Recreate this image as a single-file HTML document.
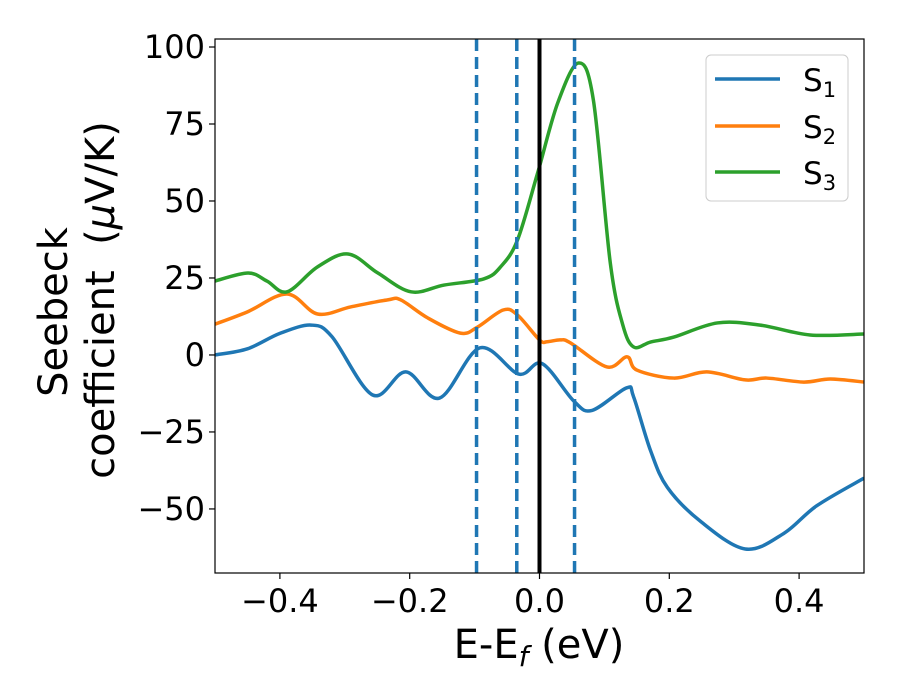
<!DOCTYPE html>
<html><head><meta charset="utf-8"><style>
html,body{margin:0;padding:0;background:#fff}
svg{font-family:"DejaVu Sans","Liberation Sans",sans-serif;display:block}
</style></head><body>
<svg id="chart" width="900" height="700">
<g id="plot"></g>
<g>
<text x="539" y="658" text-anchor="middle" font-size="40">E-E<tspan font-style="italic" font-size="28" dy="8">f</tspan><tspan dy="-8"> (eV)</tspan></text>
</g>
<g font-size="40">
<text transform="translate(67,312) rotate(-90)" text-anchor="middle">Seebeck</text>
<text transform="translate(114,300) rotate(-90)" text-anchor="middle" style="white-space:pre">coefficient  (<tspan font-style="italic">μ</tspan>V/K)</text>
</g>
<g>
<rect x="706" y="55" width="142" height="146" rx="5" fill="#fff" fill-opacity="0.8" stroke="#ccc"/>
<g><line x1="715" x2="780" y1="79" y2="79" stroke="#1f77b4" stroke-width="3.5"/><text x="803" y="91" font-size="31">S<tspan font-size="21" dy="6">1</tspan></text></g>
<g><line x1="715" x2="780" y1="126" y2="126" stroke="#ff7f0e" stroke-width="3.5"/><text x="803" y="138" font-size="31">S<tspan font-size="21" dy="6">2</tspan></text></g>
<g><line x1="715" x2="780" y1="172" y2="172" stroke="#2ca02c" stroke-width="3.5"/><text x="803" y="184" font-size="31">S<tspan font-size="21" dy="6">3</tspan></text></g>
</g>
</svg>
<script>
const xTicks=[-0.4,-0.2,0.0,0.2,0.4];
const xTickLabels=["\u22120.4","\u22120.2","0.0","0.2","0.4"];
const yTicks=[-50,-25,0,25,50,75,100];
const yTickLabels=["\u221250","\u221225","0","25","50","75","100"];
const s1x=[-0.5,-0.45,-0.4,-0.352,-0.32,-0.257,-0.206,-0.154,-0.092,-0.032,0.004,0.053,0.081,0.134,0.145,0.171,0.197,0.248,0.317,0.376,0.427,0.5];
const s1y=[0,2,7,9.7,6,-13,-5.5,-14,2.3,-6.2,-2.8,-15,-18,-10.7,-13.6,-31,-43,-54,-63,-58,-49,-40];
const s2x=[-0.5,-0.45,-0.389,-0.342,-0.291,-0.234,-0.214,-0.172,-0.122,-0.096,-0.056,-0.034,0.0,0.012,0.032,0.048,0.104,0.135,0.15,0.207,0.258,0.317,0.35,0.407,0.448,0.5];
const s2y=[10,14,19.8,13.3,15.6,17.9,17.9,12,7.1,9,14.6,13,4.9,4.3,4.9,3.9,-3.9,-0.6,-4.9,-7.5,-5.5,-8.1,-7.5,-8.8,-7.8,-8.8];
const s3x=[-0.5,-0.449,-0.42,-0.389,-0.342,-0.295,-0.249,-0.198,-0.147,-0.086,-0.06,-0.034,-0.003,0.028,0.06,0.083,0.109,0.128,0.145,0.171,0.207,0.274,0.34,0.417,0.5];
const s3y=[24,26.6,24,20.5,28.6,32.8,26.6,20.5,22.7,24.7,28.6,37.3,59,81.8,94.8,82.8,30,10,2.6,4.2,5.8,10.4,9.7,6.5,6.8];
const vlines=[-0.097,-0.035,0.054];

const L=215,R=864,T=39,B=573,xmin=-0.5,xmax=0.5,ymin=-70.8,ymax=102.6;
const X=v=>L+(v-xmin)/(xmax-xmin)*(R-L);
const Y=v=>B-(v-ymin)/(ymax-ymin)*(B-T);
const NS="http://www.w3.org/2000/svg";
const g=document.getElementById('plot');
function mk(t,a,p){const e=document.createElementNS(NS,t);for(const k in a)e.setAttribute(k,a[k]);(p||g).appendChild(e);return e;}
function path(xs,ys){const P=xs.map((x,i)=>[X(x),Y(ys[i])]);let d="M"+P[0][0]+","+P[0][1];
for(let i=0;i<P.length-1;i++){const p0=P[Math.max(0,i-1)],p1=P[i],p2=P[i+1],p3=P[Math.min(P.length-1,i+2)];
const c1=[p1[0]+(p2[0]-p0[0])/6,p1[1]+(p2[1]-p0[1])/6],c2=[p2[0]-(p3[0]-p1[0])/6,p2[1]-(p3[1]-p1[1])/6];
d+=" C"+c1+" "+c2+" "+p2;}return d;}

const clip=mk('clipPath',{id:'cp'});mk('rect',{x:L,y:T,width:R-L,height:B-T},clip);
const data=[[s1x,s1y,"#1f77b4"],[s2x,s2y,"#ff7f0e"],[s3x,s3y,"#2ca02c"]];
data.forEach((s,i)=>{const e=mk('path',{d:path(s[0],s[1]),fill:'none',stroke:s[2],'stroke-width':3.5,'clip-path':'url(#cp)'});

});
vlines.forEach((v,i)=>{const e=mk('line',{x1:X(v),x2:X(v),y1:T,y2:B,stroke:'#1f77b4','stroke-width':3.5,'stroke-dasharray':'12,6'});

});
const fl=mk('line',{x1:X(0),x2:X(0),y1:T,y2:B,stroke:'#000','stroke-width':4});


const fr=mk('rect',{x:L,y:T,width:R-L,height:B-T,fill:'none',stroke:'#000','stroke-width':1.2});


xTicks.forEach((v,i)=>{mk('line',{x1:X(v),x2:X(v),y1:B,y2:B+6,stroke:'#000','stroke-width':1.2});
const t=mk('text',{x:X(v),y:B+39,'text-anchor':'middle','font-size':32});t.textContent=xTickLabels[i];

});
yTicks.forEach((v,i)=>{mk('line',{x1:L-6,x2:L,y1:Y(v),y2:Y(v),stroke:'#000','stroke-width':1.2});
const t=mk('text',{x:L-10,y:Y(v)+11,'text-anchor':'end','font-size':32});t.textContent=yTickLabels[i];

});
</script>
</body></html>
